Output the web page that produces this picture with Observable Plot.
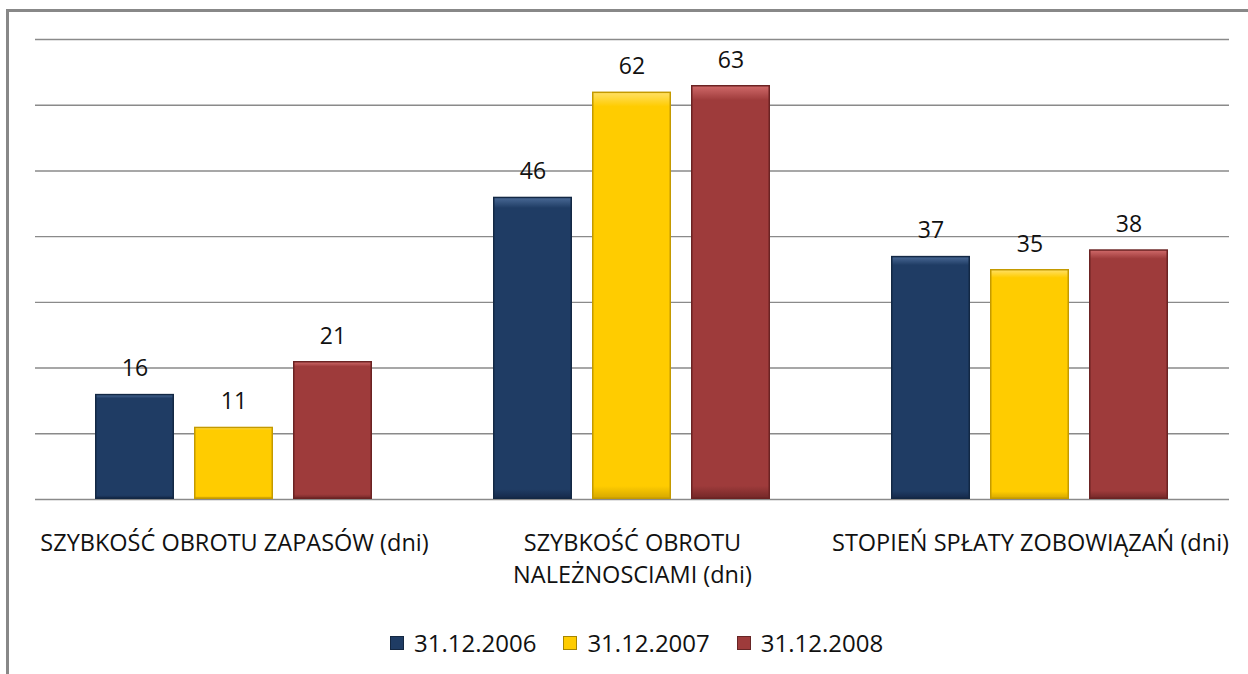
<!DOCTYPE html>
<html>
<head>
<meta charset="utf-8">
<script src="https://cdn.jsdelivr.net/npm/d3@7"></script>
<script src="https://cdn.jsdelivr.net/npm/@observablehq/plot@0.6"></script>
<style>
  html, body { margin: 0; padding: 0; background: #fff; }
  body { width: 1248px; height: 674px; position: relative; overflow: hidden; font-family: "Open Sans", sans-serif; }
  #frameLeft { position: absolute; left: 6px; top: 9px; width: 3px; height: 665px; background: #888; }
  #frameTop { position: absolute; left: 6px; top: 9px; width: 1242px; height: 3px; background: #888; }
  #chart { position: absolute; left: 0; top: 0; }
  #legend { position: absolute; left: 390px; top: 626px; display: flex; align-items: center; font-size: 24px; color: #111; white-space: nowrap; }
  .item { display: flex; align-items: center; margin-right: 27px; }
  .sw { width: 14px; height: 14px; margin-right: 10px; box-sizing: border-box; border: 1px solid rgba(0,0,0,0.35); }
</style>
</head>
<body>
<svg width="0" height="0" style="position:absolute">
  <defs>
    <linearGradient id="g0" x1="0" y1="0" x2="0" y2="1">
      <stop offset="0" stop-color="#4a6a96"/>
      <stop offset="0.035" stop-color="#1f3c64"/>
      <stop offset="0.97" stop-color="#1f3c64"/>
      <stop offset="1" stop-color="#15294a"/>
    </linearGradient>
    <linearGradient id="g1" x1="0" y1="0" x2="0" y2="1">
      <stop offset="0" stop-color="#ffe066"/>
      <stop offset="0.035" stop-color="#ffcc00"/>
      <stop offset="0.97" stop-color="#ffcc00"/>
      <stop offset="1" stop-color="#d6a800"/>
    </linearGradient>
    <linearGradient id="g2" x1="0" y1="0" x2="0" y2="1">
      <stop offset="0" stop-color="#d06a6a"/>
      <stop offset="0.035" stop-color="#9e3b3b"/>
      <stop offset="0.97" stop-color="#9e3b3b"/>
      <stop offset="1" stop-color="#742828"/>
    </linearGradient>
  </defs>
</svg>
<div id="chart"></div>
<div id="frameLeft"></div>
<div id="frameTop"></div>
<div id="legend"></div>
<script>
const categories = ["SZYBKOŚĆ OBROTU ZAPASÓW (dni)", "SZYBKOŚĆ OBROTU\nNALEŻNOSCIAMI (dni)", "STOPIEŃ SPŁATY ZOBOWIĄZAŃ (dni)"];
const series = ["31.12.2006", "31.12.2007", "31.12.2008"];
const values2006 = [16, 46, 37];
const values2007 = [11, 62, 35];
const values2008 = [21, 63, 38];
const yTicks = [0, 10, 20, 30, 40, 50, 60, 70];
const colors = ["#1f3c64", "#ffcc00", "#9e3b3b"];
const strokes = ["#132844", "#c49a00", "#6b2323"];

const seriesValues = [values2006, values2007, values2008];
const data = [];
categories.forEach((c, i) => series.forEach((s, j) => data.push({cat: c, series: s, value: seriesValues[j][i]})));

const barMarks = series.map((s, j) =>
  Plot.barY(data.filter(d => d.series === s), {
    fx: "cat", x: "series", y: "value",
    fill: `url(#g${j})`, stroke: strokes[j], strokeWidth: 1.5, inset: 0.75
  })
);

const plot = Plot.plot({
  width: 1248,
  height: 620,
  marginLeft: 35,
  marginRight: 19,
  marginTop: 39,
  marginBottom: 121,
  style: {fontFamily: "Open Sans, sans-serif", background: "transparent"},
  fx: {domain: categories, padding: 0, axis: null},
  x: {domain: series, paddingInner: 0.2, paddingOuter: 0.6, axis: null},
  y: {domain: [0, 70], axis: null},
  marks: [
    Plot.ruleY(yTicks, {stroke: "#8a8a8a", strokeWidth: 1.4}),
    ...barMarks,
    Plot.text(data, {fx: "cat", x: "series", y: "value", text: d => String(d.value), dy: -18, lineAnchor: "bottom", fontSize: 23, fill: "#111"}),
    Plot.text(categories, {fx: d => d, text: d => d, frameAnchor: "bottom", lineAnchor: "top", dy: 28, fontSize: 23.5, lineHeight: 1.38, fill: "#111"})
  ]
});
document.getElementById("chart").appendChild(plot);

const legend = document.getElementById("legend");
series.forEach((s, i) => {
  const item = document.createElement("div");
  item.className = "item";
  const sw = document.createElement("div");
  sw.className = "sw";
  sw.style.background = colors[i];
  const label = document.createElement("span");
  label.textContent = s;
  item.appendChild(sw);
  item.appendChild(label);
  legend.appendChild(item);
});
</script>
</body>
</html>
